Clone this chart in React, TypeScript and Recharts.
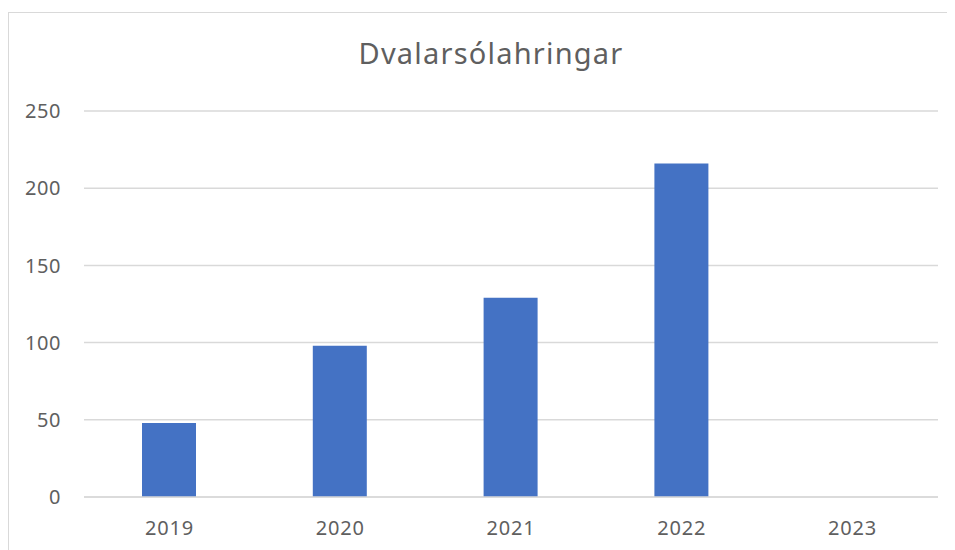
import React from "react";
import { BarChart, Bar, XAxis, YAxis, CartesianGrid } from "recharts";

const years = ["2019", "2020", "2021", "2022", "2023"];
const nights = [48, 98, 129, 216, 0];
const yTicks = [0, 50, 100, 150, 200, 250];
const title = "Dvalarsólahringar";

const data = years.map((y, i) => ({ year: y, value: nights[i] }));

const FONT = "'Noto Sans', 'Open Sans', sans-serif";
const GREY = "#5f5f5f";

export default function App() {
  return (
    <div style={{ position: "relative", width: 947, height: 542, overflow: "hidden", background: "#fff" }}>
      <div
        style={{
          position: "absolute",
          left: 0,
          top: 4,
          width: 1000,
          height: 1000,
          border: "1.5px solid #d9d9d9",
          boxSizing: "border-box",
        }}
      />
      <div
        style={{
          position: "absolute",
          left: 0,
          width: 966,
          top: 26,
          textAlign: "center",
          fontFamily: FONT,
          fontSize: 29,
          letterSpacing: 1.2,
          color: GREY,
          lineHeight: "38px",
        }}
      >
        {title}
      </div>
      <div style={{ position: "absolute", left: 0, top: 0 }}>
        <BarChart
          width={947}
          height={542}
          data={data}
          margin={{ top: 103, right: 17, bottom: 23, left: 0 }}
        >
          <CartesianGrid vertical={false} stroke="#d9d9d9" strokeWidth={1.5} />
          <XAxis
            dataKey="year"
            axisLine={{ stroke: "#d9d9d9", strokeWidth: 1.5 }}
            tickLine={false}
            tickMargin={18}
            height={30}
            tick={{ fill: GREY, fontSize: 20, fontFamily: FONT, letterSpacing: 0.8 }}
          />
          <YAxis
            width={76}
            domain={[0, 250]}
            ticks={yTicks}
            axisLine={false}
            tickLine={false}
            tickMargin={17}
            tick={{ fill: GREY, fontSize: 20, fontFamily: FONT, letterSpacing: 0.6 }}
          />
          <Bar dataKey="value" fill="#4472c4" barSize={54} isAnimationActive={false} />
        </BarChart>
      </div>
    </div>
  );
}
